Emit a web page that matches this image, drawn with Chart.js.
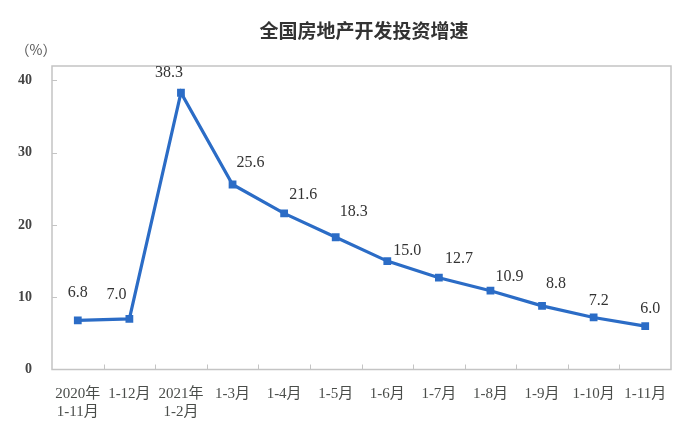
<!DOCTYPE html>
<html>
<head>
<meta charset="utf-8">
<script src="https://cdn.jsdelivr.net/npm/chart.js@4/dist/chart.umd.min.js"></script>
<style>
  html, body { margin: 0; padding: 0; background: #ffffff; }
  #wrap { width: 690px; height: 434px; }
</style>
</head>
<body>
<div id="wrap"><canvas id="investChart" width="690" height="434"></canvas></div>
<script>
// data
const categories = [
    ["2020年", "1-11月"], "1-12月", ["2021年", "1-2月"], "1-3月", "1-4月", "1-5月",
    "1-6月", "1-7月", "1-8月", "1-9月", "1-10月", "1-11月"
];
const growthRate = [6.8, 7.0, 38.3, 25.6, 21.6, 18.3, 15.0, 12.7, 10.9, 8.8, 7.2, 6.0];
const yTicks = [0, 10, 20, 30, 40];

// label placement relative to each point (dx, dy)
const labelOffsets = [
    [0, -28], [-13, -24], [-12, -20], [18, -22], [19, -19], [18, -25],
    [20, -10], [20, -19], [19, -14], [14, -22], [5, -17], [5, -17]
];

const serif = '"Liberation Serif", "DejaVu Serif", "Noto Sans CJK SC", serif';
const lineBlue = "#2b6cc6";
const frameGray = "#c4c4c4";

const decorPlugin = {
    id: "decor",
    beforeDraw(chart) {
        const ctx = chart.ctx;
        ctx.save();
        ctx.fillStyle = "#ffffff";
        ctx.fillRect(0, 0, chart.width, chart.height);
        ctx.restore();
    },
    beforeDatasetsDraw(chart) {
        const { ctx, chartArea: a, scales } = chart;
        ctx.save();
        ctx.strokeStyle = frameGray;
        ctx.lineWidth = 1.5;
        ctx.strokeRect(a.left, a.top, a.right - a.left, a.bottom - a.top);
        ctx.lineWidth = 1;
        // inside ticks on y axis
        yTicks.forEach(v => {
            if (v === 0) return;
            const y = Math.round(scales.y.getPixelForValue(v)) + 0.5;
            ctx.beginPath();
            ctx.moveTo(a.left, y);
            ctx.lineTo(a.left + 5, y);
            ctx.stroke();
        });
        // inside ticks on x axis, between categories
        for (let i = 1; i < categories.length; i++) {
            const x = Math.round((scales.x.getPixelForTick(i - 1) + scales.x.getPixelForTick(i)) / 2) + 0.5;
            ctx.beginPath();
            ctx.moveTo(x, a.bottom);
            ctx.lineTo(x, a.bottom - 5);
            ctx.stroke();
        }
        ctx.restore();
    },
    afterDraw(chart) {
        const ctx = chart.ctx;
        const meta = chart.getDatasetMeta(0);
        ctx.save();
        ctx.fillStyle = "#333333";
        ctx.font = "16px " + serif;
        ctx.textAlign = "center";
        ctx.textBaseline = "middle";
        meta.data.forEach((pt, i) => {
            const off = labelOffsets[i];
            ctx.fillText(growthRate[i].toFixed(1), pt.x + off[0], pt.y + off[1]);
        });
        // title
        ctx.fillStyle = "#333333";
        ctx.font = 'bold 19px "Noto Sans CJK SC", sans-serif';
        ctx.fillText("全国房地产开发投资增速", 364, 31);
        // unit
        ctx.fillStyle = "#555555";
        ctx.font = '14px "Noto Sans CJK SC", sans-serif';
        ctx.fillText("（%）", 36, 50);
        ctx.restore();
    }
};

new Chart(document.getElementById("investChart").getContext("2d"), {
    type: "line",
    data: {
        labels: categories,
        datasets: [{
            data: growthRate,
            borderColor: lineBlue,
            backgroundColor: lineBlue,
            borderWidth: 3.2,
            pointStyle: "rect",
            pointRadius: 5.5,
            pointHoverRadius: 5.5,
            pointBorderWidth: 0,
            tension: 0,
            fill: false
        }]
    },
    options: {
        responsive: false,
        animation: false,
        layout: { padding: { top: 66, right: 19, left: 0, bottom: 0 } },
        plugins: {
            legend: { display: false },
            title: { display: false },
            tooltip: { enabled: false }
        },
        scales: {
            x: {
                offset: true,
                border: { display: false },
                grid: { display: false },
                ticks: {
                    color: "#4a4d4a",
                    font: { family: serif, size: 15 },
                    padding: 8,
                    maxRotation: 0,
                    autoSkip: false
                },
                afterFit(scale) { scale.height = 64.5; }
            },
            y: {
                min: 0,
                max: 42,
                border: { display: false },
                grid: { display: false },
                afterBuildTicks(scale) {
                    scale.ticks = yTicks.map(v => ({ value: v }));
                },
                ticks: {
                    color: "#444444",
                    font: { family: serif, size: 14, weight: "bold" },
                    padding: 12
                },
                afterFit(scale) { scale.width = 52; }
            }
        }
    },
    plugins: [decorPlugin]
});
</script>
</body>
</html>
